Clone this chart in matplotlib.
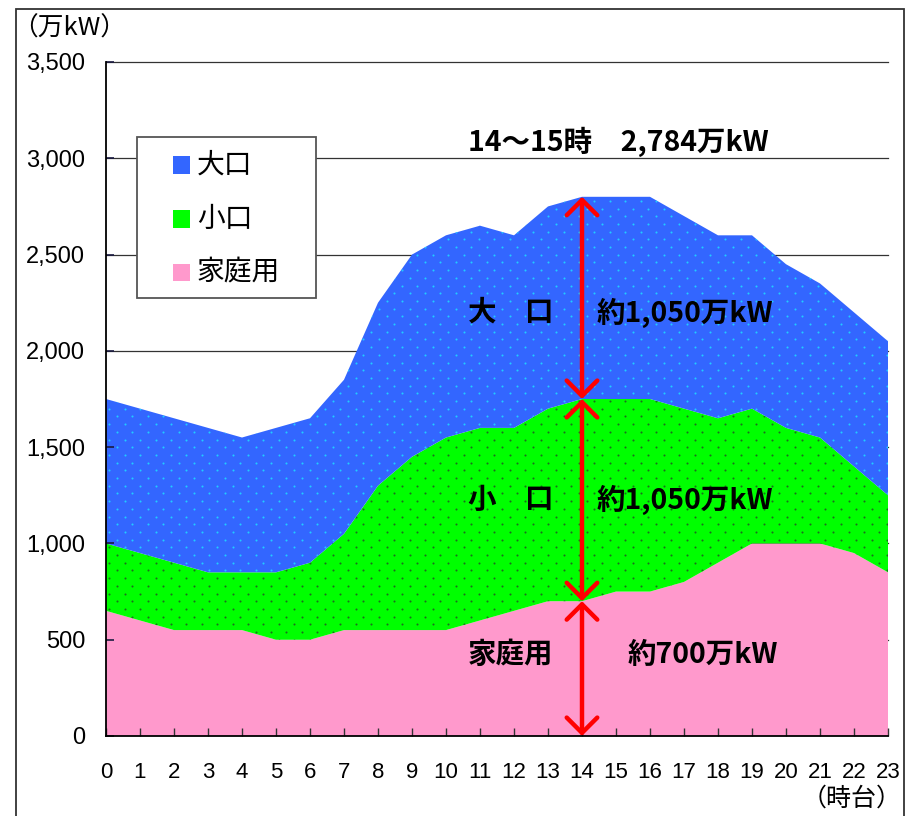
# -*- coding: utf-8 -*-

import numpy as np
import matplotlib
matplotlib.use("Agg")
import matplotlib.pyplot as plt
from matplotlib.patches import Rectangle, FancyArrowPatch, ArrowStyle

# ---------------------------------------------------------------------------
# data (万kW, hourly)
# ---------------------------------------------------------------------------
hours = list(range(24))
katei = [650, 600, 550, 550, 550, 500, 500, 550, 550, 550, 550, 600,
         650, 700, 700, 750, 750, 800, 900, 1000, 1000, 1000, 950, 850]
koguchi = [350, 350, 350, 300, 300, 350, 400, 500, 750, 900, 1000, 1000,
           950, 1000, 1050, 1000, 1000, 900, 750, 700, 600, 550, 450, 400]
ooguchi = [750, 750, 750, 750, 700, 750, 750, 800, 950, 1050, 1050, 1050,
           1000, 1050, 1050, 1050, 1050, 1000, 950, 900, 850, 800, 800, 800]

series_names = ["家庭用", "小口", "大口"]
yticks = [0, 500, 1000, 1500, 2000, 2500, 3000, 3500]
ytick_labels = ["0", "500", "1,000", "1,500", "2,000", "2,500", "3,000", "3,500"]

peak_hour = 14
peak_text = "14～15時　2,784万kW"

# ---------------------------------------------------------------------------
# style
# ---------------------------------------------------------------------------
W, H = 912, 816
DPI = 100
AX_L, AX_R, AX_T, AX_B = 106, 888, 62, 736

PINK = "#ff99cc"
GREEN = "#00ff00"
BLUE = "#3366ff"
DOT_BLUE = "#22ccff"
DOT_GREEN = "#1d6e1d"
RED = "#ff0000"

JP = ["Noto Sans CJK JP", "DejaVu Sans"]
plt.rcParams["font.family"] = ["Liberation Sans", "Noto Sans CJK JP", "DejaVu Sans"]

fig = plt.figure(figsize=(W / DPI, H / DPI), dpi=DPI)
ax = fig.add_axes([AX_L / W, 1 - AX_B / H, (AX_R - AX_L) / W, (AX_B - AX_T) / H])

ax.set_xlim(0, 23)
ax.set_ylim(0, 3500)

# horizontal rules sit under the areas
for v in yticks[1:]:
    ax.axhline(v, color="#333333", lw=0.9, zorder=0.5, clip_on=False)

polys = ax.stackplot(hours, katei, koguchi, ooguchi,
                     colors=[PINK, GREEN, BLUE], linewidth=0, zorder=1)

# dotted texture on the two upper bands
px_per_x = (AX_R - AX_L) / 23.0
px_per_y = (AX_B - AX_T) / 3500.0
step_x = 15.4 / px_per_x
step_y = 7.7 / px_per_y
gx, gy = [], []
for r, yy in enumerate(np.arange(step_y / 2, 3500, step_y)):
    off = (step_x / 2) * (r % 2)
    for xx in np.arange(off + 0.1, 23, step_x):
        gx.append(xx)
        gy.append(yy)
for poly, dc in ((polys[1], DOT_GREEN), (polys[2], DOT_BLUE)):
    sc = ax.scatter(gx, gy, s=2.2, c=dc, linewidths=0, zorder=1.2)
    sc.set_clip_path(poly.get_paths()[0], ax.transData)

# axes styling
for side in ("top", "right"):
    ax.spines[side].set_visible(False)
for side in ("left", "bottom"):
    ax.spines[side].set_linewidth(1.3)
    ax.spines[side].set_zorder(3)

ax.set_yticks(yticks)
ax.set_yticklabels(ytick_labels)
ax.set_xticks(hours)
ax.set_xticklabels([str(h) for h in hours])
ax.tick_params(axis="y", direction="in", length=6, width=1.2, color="#1a1a40",
               labelsize=17, pad=15)
ax.tick_params(axis="x", direction="in", length=6, width=1.0, color="#333333",
               labelsize=16, pad=19)

# peak breakdown arrows at 14時
k = hours.index(peak_hour)
levels = [0, katei[k], katei[k] + koguchi[k], katei[k] + koguchi[k] + ooguchi[k]]
style = ArrowStyle("<->", head_length=0.55, head_width=0.55)
for y0, y1 in zip(levels[:-1], levels[1:]):
    arr = FancyArrowPatch((peak_hour, y0), (peak_hour, y1), arrowstyle=style,
                          mutation_scale=20, color=RED, lw=3.2,
                          shrinkA=0, shrinkB=0, capstyle="round",
                          joinstyle="round", zorder=5, clip_on=False)
    ax.add_patch(arr)

# annotations
def to_data(px, py):
    return (px - AX_L) / px_per_x, (AX_B - py) / px_per_y

txt_kw = dict(family=JP, fontweight="bold", fontsize=20.5, ha="left",
              va="center", zorder=6)
ax.text(*to_data(468, 142), peak_text, **txt_kw)
ax.text(*to_data(468, 313), "大　口", **txt_kw)
ax.text(*to_data(597, 313), "約1,050万kW", **txt_kw)
ax.text(*to_data(468, 500), "小　口", **txt_kw)
ax.text(*to_data(597, 500), "約1,050万kW", **txt_kw)
ax.text(*to_data(468, 655), "家庭用", **txt_kw)
ax.text(*to_data(628, 655), "約700万kW", **txt_kw)

# legend box
def ax_x(px):
    return (px - AX_L) / (AX_R - AX_L)

def ax_y(py):
    return (AX_B - py) / (AX_B - AX_T)

ax.add_patch(Rectangle((ax_x(137), ax_y(298)), ax_x(316) - ax_x(137),
                       ax_y(137) - ax_y(298), transform=ax.transAxes,
                       facecolor="white", edgecolor="#555555", lw=1.3,
                       zorder=7))
legend_rows = [(BLUE, "大口", 165), (GREEN, "小口", 219), (PINK, "家庭用", 272)]
for col, name, py in legend_rows:
    ax.add_patch(Rectangle((ax_x(173), ax_y(py + 8.5)), ax_x(190) - ax_x(173),
                           ax_y(py - 8.5) - ax_y(py + 8.5),
                           transform=ax.transAxes, facecolor=col,
                           edgecolor="none", zorder=8))
    ax.text(ax_x(197), ax_y(py), name, transform=ax.transAxes, family=JP,
            fontsize=20, ha="left", va="center", zorder=8)

# unit labels
fig.text(12 / W, 1 - 29 / H, "（万kW）", family=JP, fontsize=18.5,
         ha="left", va="center")
fig.text(852 / W, 1 - 799 / H, "（時台）", family=JP, fontsize=18,
         ha="center", va="center")

# outer frame
fig.add_artist(Rectangle((16 / W, -0.05), (904 - 16) / W, 0.05 + 1 - 9 / H,
                         transform=fig.transFigure, fill=False,
                         edgecolor="#333333", lw=1.3, clip_on=False))

fig.savefig("out.png", dpi=DPI)
